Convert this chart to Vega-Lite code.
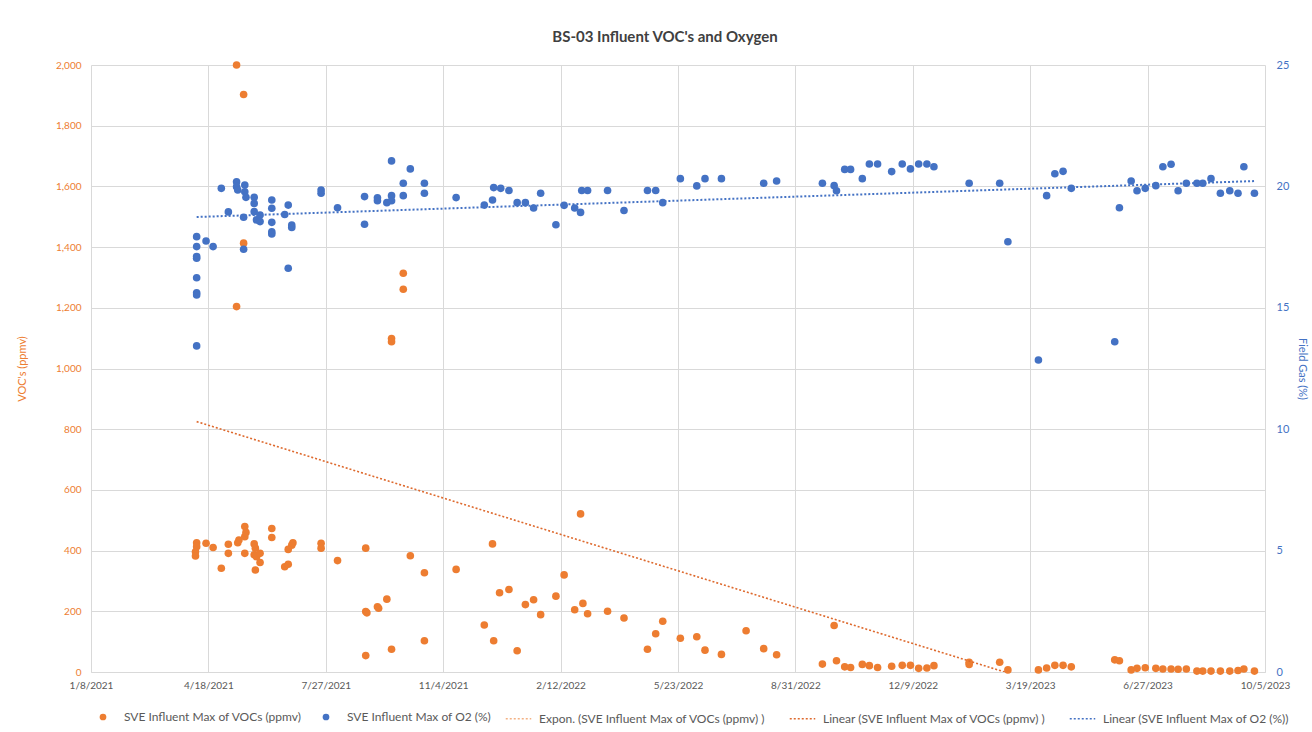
{
  "$schema": "https://vega.github.io/schema/vega-lite/v6.json",
  "autosize": "none",
  "width": 1174,
  "height": 607,
  "padding": {"left": 91, "top": 65, "right": 47, "bottom": 60},
  "background": "white",
  "config": {
    "font": "Lato",
    "view": {"stroke": null},
    "axis": {"labelFont": "Lato", "titleFont": "Lato", "labelFontSize": 10, "titleFontSize": 11, "titleFontWeight": "normal"},
    "legend": {"padding": 0, "labelFont": "Lato", "labelFontSize": 12, "labelColor": "#595959", "labelLimit": 400, "title": null}
  },
  "title": {"text": "BS-03 Influent VOC's and Oxygen", "font": "Lato", "fontSize": 15, "fontWeight": "bold", "color": "#404040", "offset": 14, "anchor": "middle", "frame": "group", "dx": -13},
  "datasets": {
    "voc": [
      {"date": "2021-04-08", "value": 426}, {"date": "2021-04-08", "value": 413}, {"date": "2021-04-07", "value": 396}, {"date": "2021-04-07", "value": 382},
      {"date": "2021-04-16", "value": 424}, {"date": "2021-04-22", "value": 410}, {"date": "2021-04-29", "value": 342},
      {"date": "2021-05-05", "value": 421}, {"date": "2021-05-05", "value": 391},
      {"date": "2021-05-12", "value": 2000}, {"date": "2021-05-12", "value": 1204},
      {"date": "2021-05-13", "value": 426}, {"date": "2021-05-14", "value": 435},
      {"date": "2021-05-18", "value": 1903}, {"date": "2021-05-18", "value": 1413},
      {"date": "2021-05-19", "value": 479}, {"date": "2021-05-19", "value": 446}, {"date": "2021-05-19", "value": 391}, {"date": "2021-05-20", "value": 460},
      {"date": "2021-05-27", "value": 422}, {"date": "2021-05-27", "value": 386}, {"date": "2021-05-28", "value": 408}, {"date": "2021-05-28", "value": 336}, {"date": "2021-05-29", "value": 380},
      {"date": "2021-06-01", "value": 391}, {"date": "2021-06-01", "value": 361},
      {"date": "2021-06-11", "value": 473}, {"date": "2021-06-11", "value": 443},
      {"date": "2021-06-22", "value": 347}, {"date": "2021-06-25", "value": 355}, {"date": "2021-06-25", "value": 404},
      {"date": "2021-06-28", "value": 418}, {"date": "2021-06-29", "value": 426},
      {"date": "2021-07-23", "value": 424}, {"date": "2021-07-23", "value": 408},
      {"date": "2021-08-06", "value": 367},
      {"date": "2021-08-30", "value": 408}, {"date": "2021-08-30", "value": 199}, {"date": "2021-08-31", "value": 195}, {"date": "2021-08-30", "value": 54},
      {"date": "2021-09-09", "value": 215}, {"date": "2021-09-10", "value": 210}, {"date": "2021-09-17", "value": 240},
      {"date": "2021-09-21", "value": 1099}, {"date": "2021-09-21", "value": 1088}, {"date": "2021-09-21", "value": 75},
      {"date": "2021-10-01", "value": 1314}, {"date": "2021-10-01", "value": 1261},
      {"date": "2021-10-07", "value": 383}, {"date": "2021-10-19", "value": 327}, {"date": "2021-10-19", "value": 103},
      {"date": "2021-11-15", "value": 338}, {"date": "2021-12-09", "value": 155}, {"date": "2021-12-16", "value": 422}, {"date": "2021-12-17", "value": 103},
      {"date": "2021-12-22", "value": 261}, {"date": "2021-12-30", "value": 272},
      {"date": "2022-01-06", "value": 70}, {"date": "2022-01-13", "value": 222}, {"date": "2022-01-20", "value": 238}, {"date": "2022-01-26", "value": 189},
      {"date": "2022-02-08", "value": 250}, {"date": "2022-02-15", "value": 320}, {"date": "2022-02-24", "value": 205},
      {"date": "2022-03-01", "value": 521}, {"date": "2022-03-03", "value": 226}, {"date": "2022-03-07", "value": 192}, {"date": "2022-03-24", "value": 200},
      {"date": "2022-04-07", "value": 178}, {"date": "2022-04-27", "value": 75}, {"date": "2022-05-04", "value": 126}, {"date": "2022-05-10", "value": 167},
      {"date": "2022-05-25", "value": 111}, {"date": "2022-06-08", "value": 116}, {"date": "2022-06-15", "value": 72}, {"date": "2022-06-29", "value": 58},
      {"date": "2022-07-20", "value": 136}, {"date": "2022-08-04", "value": 77}, {"date": "2022-08-15", "value": 57},
      {"date": "2022-09-23", "value": 26}, {"date": "2022-10-03", "value": 153}, {"date": "2022-10-05", "value": 37}, {"date": "2022-10-12", "value": 17},
      {"date": "2022-10-17", "value": 15}, {"date": "2022-10-27", "value": 25}, {"date": "2022-11-02", "value": 21}, {"date": "2022-11-09", "value": 15},
      {"date": "2022-11-21", "value": 19}, {"date": "2022-11-30", "value": 22}, {"date": "2022-12-07", "value": 22}, {"date": "2022-12-14", "value": 12},
      {"date": "2022-12-21", "value": 13}, {"date": "2022-12-27", "value": 21},
      {"date": "2023-01-26", "value": 25}, {"date": "2023-01-26", "value": 32}, {"date": "2023-02-21", "value": 32}, {"date": "2023-02-28", "value": 7},
      {"date": "2023-03-26", "value": 7}, {"date": "2023-04-02", "value": 13}, {"date": "2023-04-09", "value": 22}, {"date": "2023-04-16", "value": 22}, {"date": "2023-04-23", "value": 17},
      {"date": "2023-05-30", "value": 40}, {"date": "2023-06-03", "value": 37}, {"date": "2023-06-13", "value": 7}, {"date": "2023-06-18", "value": 12}, {"date": "2023-06-25", "value": 14},
      {"date": "2023-07-04", "value": 12}, {"date": "2023-07-10", "value": 10}, {"date": "2023-07-17", "value": 10}, {"date": "2023-07-23", "value": 9}, {"date": "2023-07-30", "value": 10},
      {"date": "2023-08-08", "value": 3}, {"date": "2023-08-13", "value": 3}, {"date": "2023-08-20", "value": 3}, {"date": "2023-08-28", "value": 3},
      {"date": "2023-09-05", "value": 3}, {"date": "2023-09-12", "value": 5}, {"date": "2023-09-17", "value": 10}, {"date": "2023-09-26", "value": 3}
    ],
    "o2": [
      {"date": "2021-04-08", "value": 17.93}, {"date": "2021-04-08", "value": 17.52}, {"date": "2021-04-08", "value": 17.11}, {"date": "2021-04-08", "value": 17.04},
      {"date": "2021-04-08", "value": 16.24}, {"date": "2021-04-08", "value": 15.62}, {"date": "2021-04-08", "value": 15.53}, {"date": "2021-04-08", "value": 13.43},
      {"date": "2021-04-16", "value": 17.75}, {"date": "2021-04-22", "value": 17.52}, {"date": "2021-04-29", "value": 19.92}, {"date": "2021-05-05", "value": 18.95},
      {"date": "2021-05-12", "value": 20.19}, {"date": "2021-05-12", "value": 19.99}, {"date": "2021-05-13", "value": 19.85},
      {"date": "2021-05-19", "value": 20.06}, {"date": "2021-05-19", "value": 19.78}, {"date": "2021-05-20", "value": 19.55},
      {"date": "2021-05-18", "value": 18.73}, {"date": "2021-05-18", "value": 17.41},
      {"date": "2021-05-27", "value": 19.55}, {"date": "2021-05-27", "value": 19.30}, {"date": "2021-05-27", "value": 18.96}, {"date": "2021-05-29", "value": 18.62},
      {"date": "2021-06-01", "value": 18.82}, {"date": "2021-06-01", "value": 18.55},
      {"date": "2021-06-11", "value": 19.44}, {"date": "2021-06-11", "value": 19.10}, {"date": "2021-06-11", "value": 18.52}, {"date": "2021-06-11", "value": 18.13}, {"date": "2021-06-11", "value": 18.04},
      {"date": "2021-06-22", "value": 18.84}, {"date": "2021-06-25", "value": 19.23}, {"date": "2021-06-25", "value": 16.63},
      {"date": "2021-06-28", "value": 18.41}, {"date": "2021-06-28", "value": 18.31},
      {"date": "2021-07-23", "value": 19.85}, {"date": "2021-07-23", "value": 19.72}, {"date": "2021-08-06", "value": 19.12},
      {"date": "2021-08-29", "value": 19.58}, {"date": "2021-08-29", "value": 18.44},
      {"date": "2021-09-09", "value": 19.53}, {"date": "2021-09-09", "value": 19.41}, {"date": "2021-09-17", "value": 19.33},
      {"date": "2021-09-21", "value": 19.62}, {"date": "2021-09-21", "value": 19.41}, {"date": "2021-09-21", "value": 21.05},
      {"date": "2021-10-01", "value": 20.13}, {"date": "2021-10-01", "value": 19.62}, {"date": "2021-10-07", "value": 20.72},
      {"date": "2021-10-19", "value": 20.13}, {"date": "2021-10-19", "value": 19.72}, {"date": "2021-11-15", "value": 19.54},
      {"date": "2021-12-09", "value": 19.23}, {"date": "2021-12-16", "value": 19.44}, {"date": "2021-12-17", "value": 19.95}, {"date": "2021-12-23", "value": 19.92},
      {"date": "2021-12-30", "value": 19.83}, {"date": "2022-01-06", "value": 19.33}, {"date": "2022-01-13", "value": 19.33}, {"date": "2022-01-20", "value": 19.11},
      {"date": "2022-01-26", "value": 19.72}, {"date": "2022-02-08", "value": 18.42}, {"date": "2022-02-15", "value": 19.22}, {"date": "2022-02-24", "value": 19.11},
      {"date": "2022-03-01", "value": 18.93}, {"date": "2022-03-02", "value": 19.83}, {"date": "2022-03-07", "value": 19.83}, {"date": "2022-03-24", "value": 19.83},
      {"date": "2022-04-07", "value": 19.01}, {"date": "2022-04-27", "value": 19.83}, {"date": "2022-05-04", "value": 19.83}, {"date": "2022-05-10", "value": 19.33},
      {"date": "2022-05-25", "value": 20.32}, {"date": "2022-06-08", "value": 20.02}, {"date": "2022-06-15", "value": 20.32}, {"date": "2022-06-29", "value": 20.32},
      {"date": "2022-08-04", "value": 20.13}, {"date": "2022-08-15", "value": 20.22},
      {"date": "2022-09-23", "value": 20.13}, {"date": "2022-10-03", "value": 20.03}, {"date": "2022-10-05", "value": 19.82}, {"date": "2022-10-12", "value": 20.70},
      {"date": "2022-10-17", "value": 20.70}, {"date": "2022-10-27", "value": 20.32}, {"date": "2022-11-02", "value": 20.92}, {"date": "2022-11-09", "value": 20.92},
      {"date": "2022-11-21", "value": 20.61}, {"date": "2022-11-30", "value": 20.92}, {"date": "2022-12-07", "value": 20.72}, {"date": "2022-12-14", "value": 20.92},
      {"date": "2022-12-21", "value": 20.92}, {"date": "2022-12-27", "value": 20.81},
      {"date": "2023-01-26", "value": 20.13}, {"date": "2023-02-21", "value": 20.13}, {"date": "2023-02-28", "value": 17.72}, {"date": "2023-03-26", "value": 12.85},
      {"date": "2023-04-02", "value": 19.62}, {"date": "2023-04-09", "value": 20.52}, {"date": "2023-04-16", "value": 20.62}, {"date": "2023-04-23", "value": 19.92},
      {"date": "2023-05-30", "value": 13.60}, {"date": "2023-06-03", "value": 19.12}, {"date": "2023-06-13", "value": 20.22}, {"date": "2023-06-18", "value": 19.82},
      {"date": "2023-06-25", "value": 19.92}, {"date": "2023-07-04", "value": 20.03}, {"date": "2023-07-10", "value": 20.81}, {"date": "2023-07-17", "value": 20.91},
      {"date": "2023-07-23", "value": 19.82}, {"date": "2023-07-30", "value": 20.13}, {"date": "2023-08-08", "value": 20.13}, {"date": "2023-08-13", "value": 20.13},
      {"date": "2023-08-20", "value": 20.32}, {"date": "2023-08-28", "value": 19.72}, {"date": "2023-09-05", "value": 19.82}, {"date": "2023-09-12", "value": 19.72},
      {"date": "2023-09-17", "value": 20.81}, {"date": "2023-09-26", "value": 19.72}
    ],
    "vocTrend": [
      {"date": "2021-04-08", "value": 825}, {"date": "2023-09-26", "value": -255}
    ],
    "o2Trend": [
      {"date": "2021-04-08", "value": 18.74}, {"date": "2023-09-26", "value": 20.22}
    ]
  },
  "encoding": {
    "x": {
      "field": "date", "type": "temporal",
      "scale": {"type": "utc", "domain": [{"year": 2021, "month": 1, "date": 8, "utc": true}, {"year": 2023, "month": 10, "date": 5, "utc": true}]},
      "axis": {
        "title": null, "format": "%-m/%-d/%Y", "labelColor": "#595959", "labelPadding": 8, "labelFlush": false,
        "grid": true, "gridColor": "#D9D9D9", "ticks": false, "domainColor": "#D9D9D9",
        "values": [
          {"year": 2021, "month": 1, "date": 8, "utc": true}, {"year": 2021, "month": 4, "date": 18, "utc": true},
          {"year": 2021, "month": 7, "date": 27, "utc": true}, {"year": 2021, "month": 11, "date": 4, "utc": true},
          {"year": 2022, "month": 2, "date": 12, "utc": true}, {"year": 2022, "month": 5, "date": 23, "utc": true},
          {"year": 2022, "month": 8, "date": 31, "utc": true}, {"year": 2022, "month": 12, "date": 9, "utc": true},
          {"year": 2023, "month": 3, "date": 19, "utc": true}, {"year": 2023, "month": 6, "date": 27, "utc": true},
          {"year": 2023, "month": 10, "date": 5, "utc": true}
        ]
      }
    }
  },
  "layer": [
    {
      "layer": [
        {
          "data": {"name": "voc"},
          "mark": {"type": "point", "filled": true, "size": 58, "opacity": 1},
          "encoding": {
            "y": {"field": "value", "type": "quantitative", "scale": {"domain": [0, 2000]},
              "axis": {"title": "VOC's (ppmv)", "titleColor": "#ED7D31", "labelColor": "#ED7D31", "format": ",d", "values": [0,200,400,600,800,1000,1200,1400,1600,1800,2000],
                "grid": true, "gridColor": "#D9D9D9", "domain": false, "ticks": false, "labelPadding": 10, "titlePadding": 28}},
            "fill": {
              "datum": "SVE Influent Max of VOCs (ppmv)",
              "scale": {
                "domain": ["SVE Influent Max of VOCs (ppmv)", "SVE Influent Max of O2 (%)"],
                "range": ["#ED7D31", "#4472C4"]
              },
              "legend": {
                "orient": "none", "direction": "horizontal", "legendX": 6, "legendY": 646,
                "symbolType": "circle", "symbolSize": 45, "symbolStrokeWidth": 0, "labelOffset": 15, "columnPadding": 18
              }
            }
          }
        },
        {
          "data": {"name": "vocTrend"},
          "mark": {"type": "line", "clip": true, "strokeDash": [2, 2], "strokeWidth": 1.6},
          "encoding": {
            "y": {"field": "value", "type": "quantitative", "scale": {"domain": [0, 2000]}},
            "stroke": {
              "datum": "Linear (SVE Influent Max of VOCs (ppmv) )",
              "scale": {
                "domain": ["Expon. (SVE Influent Max of VOCs (ppmv) )", "Linear (SVE Influent Max of VOCs (ppmv) )", "Linear (SVE Influent Max of O2 (%))"],
                "range": ["#F4B183", "#DE6A2E", "#4472C4"]
              },
              "legend": {
                "orient": "none", "direction": "horizontal", "legendX": 414, "legendY": 640,
                "symbolType": "stroke", "symbolSize": 650, "symbolDash": [2, 2], "symbolStrokeWidth": 1.5, "labelOffset": 7, "columnPadding": 20
              }
            }
          }
        }
      ]
    },
    {
      "layer": [
        {
          "data": {"name": "o2"},
          "mark": {"type": "point", "filled": true, "size": 58, "opacity": 1},
          "encoding": {
            "y": {"field": "value", "type": "quantitative", "scale": {"domain": [0, 25]},
              "axis": {"orient": "right", "title": "Field Gas (%)", "titleColor": "#4472C4", "labelColor": "#4472C4", "values": [0,5,10,15,20,25],
                "grid": false, "domain": false, "ticks": false, "labelFontSize": 11, "labelPadding": 11, "titlePadding": 8}},
            "fill": {"datum": "SVE Influent Max of O2 (%)"}
          }
        },
        {
          "data": {"name": "o2Trend"},
          "mark": {"type": "line", "clip": true, "strokeDash": [2, 2], "strokeWidth": 2},
          "encoding": {
            "y": {"field": "value", "type": "quantitative", "scale": {"domain": [0, 25]}},
            "stroke": {"datum": "Linear (SVE Influent Max of O2 (%))"}
          }
        }
      ]
    }
  ],
  "resolve": {"scale": {"y": "independent"}}
}
